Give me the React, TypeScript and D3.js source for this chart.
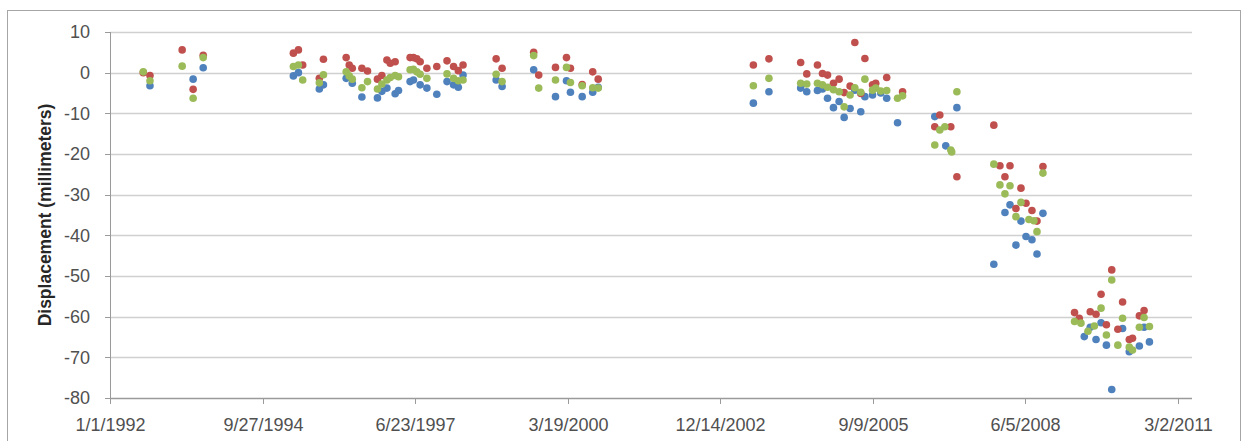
import React from "react";
import * as d3 from "d3";

type Pt = [string, number];

const blueSeries: Pt[] = [
  ["1992-09-19", -3.2], ["1993-06-29", -1.6], ["1993-09-03", 1.2],
  ["1995-04-17", -0.8], ["1995-05-20", 0.0], ["1995-10-04", -4.0], ["1995-10-31", -3.0],
  ["1996-03-28", -1.4], ["1996-05-07", -2.6], ["1996-07-09", -6.0], ["1996-10-19", -6.2],
  ["1996-11-17", -4.6], ["1996-12-20", -3.8], ["1997-02-12", -5.2], ["1997-03-06", -4.4],
  ["1997-05-21", -2.2], ["1997-06-12", -1.8], ["1997-07-26", -3.0], ["1997-09-08", -3.8],
  ["1997-11-12", -5.3], ["1998-01-18", -2.2], ["1998-03-02", -3.0], ["1998-04-02", -3.6],
  ["1998-05-03", -0.6], ["1998-12-06", -1.8], ["1999-01-14", -3.4], ["1999-08-09", 0.7],
  ["1999-12-30", -5.9], ["2000-03-11", -2.0], ["2000-04-06", -4.8], ["2000-06-22", -5.9],
  ["2000-08-30", -4.8], ["2000-10-05", -3.6],
  ["2003-07-19", -7.5], ["2003-10-29", -4.7], ["2004-05-24", -3.8], ["2004-07-03", -4.7],
  ["2004-09-11", -4.4], ["2004-10-14", -4.0], ["2004-11-16", -6.3], ["2004-12-25", -8.6],
  ["2005-01-31", -7.1], ["2005-03-05", -11.0], ["2005-04-13", -8.8], ["2005-05-14", -4.3],
  ["2005-06-22", -9.6], ["2005-07-19", -5.9], ["2005-09-07", -5.5], ["2005-10-31", -5.0],
  ["2005-12-09", -6.3], ["2006-02-18", -12.3],
  ["2006-10-20", -10.8], ["2006-12-31", -18.0], ["2007-03-14", -8.6],
  ["2007-11-11", -47.1], ["2008-01-23", -34.4], ["2008-02-25", -32.5], ["2008-04-04", -42.4],
  ["2008-05-07", -36.5], ["2008-06-09", -40.3], ["2008-07-18", -41.1], ["2008-08-20", -44.6],
  ["2008-09-28", -34.6],
  ["2009-06-26", -64.9], ["2009-08-04", -62.6], ["2009-09-11", -65.6], ["2009-10-14", -61.5],
  ["2009-11-18", -67.0], ["2009-12-23", -77.9], ["2010-03-04", -62.9], ["2010-04-17", -68.6],
  ["2010-06-22", -67.2], ["2010-07-23", -62.6], ["2010-08-27", -66.2],
];

const redSeries: Pt[] = [
  ["1992-08-06", 0.0], ["1992-09-19", -0.7], ["1993-04-18", 5.6], ["1993-06-29", -4.1],
  ["1993-09-03", 4.3],
  ["1995-04-17", 4.8], ["1995-05-20", 5.6], ["1995-06-17", 1.9], ["1995-10-04", -1.4],
  ["1995-10-31", 3.3], ["1996-03-28", 3.7], ["1996-04-17", 1.9], ["1996-05-07", 1.1],
  ["1996-07-09", 1.1], ["1996-08-15", 0.4], ["1996-10-19", -1.6], ["1996-11-17", -0.7],
  ["1996-12-20", 3.1], ["1997-01-11", 2.3], ["1997-02-12", 2.7], ["1997-05-21", 3.7],
  ["1997-06-12", 3.7], ["1997-07-04", 3.4], ["1997-07-26", 2.7], ["1997-09-08", 1.1],
  ["1997-11-12", 1.5], ["1998-01-18", 2.9], ["1998-03-02", 1.5], ["1998-04-02", 0.5],
  ["1998-05-03", 1.9], ["1998-12-06", 3.4], ["1999-01-14", 1.1], ["1999-08-09", 5.0],
  ["1999-09-11", -0.6], ["1999-12-30", 1.3], ["2000-03-11", 3.7], ["2000-04-06", 1.1],
  ["2000-06-22", -2.9], ["2000-08-30", 0.2], ["2000-10-05", -1.6],
  ["2003-07-19", 1.9], ["2003-10-29", 3.4], ["2004-05-24", 2.5], ["2004-07-03", -0.3],
  ["2004-09-11", 1.9], ["2004-10-14", -0.2], ["2004-11-16", -0.6], ["2004-12-25", -2.6],
  ["2005-01-31", -1.6], ["2005-03-05", -4.9], ["2005-04-13", -3.3], ["2005-05-14", 7.4],
  ["2005-06-22", -5.1], ["2005-07-19", 3.5], ["2005-09-07", -3.0], ["2005-09-28", -2.6],
  ["2005-12-09", -1.2], ["2006-03-23", -4.7],
  ["2006-10-20", -13.3], ["2006-11-22", -10.4], ["2007-02-02", -13.3], ["2007-03-14", -25.6],
  ["2007-11-11", -12.9], ["2007-12-21", -22.9], ["2008-01-23", -25.6], ["2008-02-25", -22.9],
  ["2008-04-04", -33.4], ["2008-05-07", -28.4], ["2008-06-09", -32.1], ["2008-07-18", -33.9],
  ["2008-08-20", -36.5], ["2008-09-28", -23.1],
  ["2009-04-23", -59.0], ["2009-05-24", -60.4], ["2009-08-04", -58.8], ["2009-09-11", -59.4],
  ["2009-10-14", -54.5], ["2009-11-18", -62.0], ["2009-12-23", -48.5], ["2010-02-01", -63.1],
  ["2010-03-04", -56.4], ["2010-04-17", -65.6], ["2010-05-08", -65.3], ["2010-06-22", -59.8],
  ["2010-07-23", -58.5],
];

const greenSeries: Pt[] = [
  ["1992-08-06", 0.2], ["1992-09-19", -2.0], ["1993-04-18", 1.6], ["1993-06-29", -6.3],
  ["1993-09-03", 3.7],
  ["1995-04-17", 1.5], ["1995-05-20", 1.9], ["1995-06-17", -1.8], ["1995-10-04", -2.5],
  ["1995-10-31", -0.5], ["1996-03-28", 0.2], ["1996-04-17", -0.8], ["1996-05-07", -1.6],
  ["1996-07-09", -3.7], ["1996-08-15", -2.2], ["1996-10-19", -4.0], ["1996-11-17", -2.8],
  ["1996-12-20", -1.8], ["1997-01-11", -1.2], ["1997-02-12", -0.7], ["1997-03-06", -1.0],
  ["1997-05-21", 0.7], ["1997-06-12", 0.8], ["1997-07-04", 0.2], ["1997-07-26", -0.4],
  ["1997-09-08", -1.4], ["1998-01-18", -0.3], ["1998-03-02", -1.4], ["1998-04-02", -2.0],
  ["1998-05-03", -1.8], ["1998-12-06", -0.4], ["1999-01-14", -2.2], ["1999-08-09", 4.2],
  ["1999-09-11", -3.8], ["1999-12-30", -1.8], ["2000-03-11", 1.3], ["2000-04-06", -2.4],
  ["2000-06-22", -3.2], ["2000-08-30", -3.7], ["2000-10-05", -3.8],
  ["2003-07-19", -3.2], ["2003-10-29", -1.4], ["2004-05-24", -2.6], ["2004-07-03", -2.8],
  ["2004-09-11", -2.6], ["2004-10-14", -3.0], ["2004-11-16", -3.6], ["2004-12-25", -4.2],
  ["2005-01-31", -4.7], ["2005-03-05", -8.4], ["2005-04-13", -5.5], ["2005-05-14", -3.7],
  ["2005-06-22", -4.8], ["2005-07-19", -1.6], ["2005-09-07", -4.3], ["2005-09-28", -3.8],
  ["2005-10-31", -4.5], ["2005-12-09", -4.4], ["2006-02-18", -6.3], ["2006-03-23", -5.7],
  ["2006-10-20", -17.8], ["2006-11-22", -14.1], ["2006-12-25", -13.3], ["2007-02-02", -19.0],
  ["2007-02-08", -19.5], ["2007-03-14", -4.7],
  ["2007-11-11", -22.5], ["2007-12-21", -27.6], ["2008-01-23", -29.8], ["2008-02-25", -27.8],
  ["2008-04-04", -35.4], ["2008-05-07", -31.9], ["2008-06-28", -36.1], ["2008-07-31", -36.4],
  ["2008-08-20", -39.1], ["2008-09-28", -24.7],
  ["2009-04-23", -61.2], ["2009-06-04", -61.6], ["2009-07-20", -63.6], ["2009-08-31", -62.3],
  ["2009-10-14", -57.9], ["2009-11-18", -64.5], ["2009-12-23", -51.0], ["2010-02-01", -67.0],
  ["2010-03-04", -60.4], ["2010-04-17", -67.5], ["2010-05-08", -68.2], ["2010-06-22", -62.6],
  ["2010-07-23", -60.2], ["2010-08-27", -62.4],
];

const xTickLabels = ["1/1/1992", "9/27/1994", "6/23/1997", "3/19/2000", "12/14/2002", "9/9/2005", "6/5/2008", "3/2/2011"];
const yTicks = [10, 0, -10, -20, -30, -40, -50, -60, -70, -80];
const xDomainLabels = ["1/1/1992", "6/2/2011"];
const yTitle = "Displacement (millimeters)";

const seriesList = [
  { name: "blue", data: blueSeries, color: "#4F81BD" },
  { name: "red", data: redSeries, color: "#C0504D" },
  { name: "green", data: greenSeries, color: "#9BBB59" },
];

const parseISO = d3.timeParse("%Y-%m-%d");
const parseUS = d3.timeParse("%m/%d/%Y");

export default function App() {
  const W = 1248, H = 441;
  const left = 110, right = 1192, top = 32, bottom = 398;
  const x = d3.scaleTime()
    .domain(xDomainLabels.map((s) => parseUS(s) as Date))
    .range([left, right]);
  const y = d3.scaleLinear().domain([-80, 10]).range([bottom, top]);
  const font = "'Liberation Sans', Arial, sans-serif";
  const txt = "#505050";

  return (
    <svg width={W} height={H} style={{ position: "absolute", left: 0, top: 0, background: "#fff" }}>
      <rect x={0} y={0} width={W} height={H} fill="#fff" />
      <rect x={7.5} y={10.5} width={1233} height={440} fill="none" stroke="#a6a6a6" strokeWidth={1} />
      {yTicks.map((t) => (
        <g key={"y" + t}>
          {t !== -80 && (
            <line x1={left} x2={right} y1={Math.round(y(t)) + 0.5} y2={Math.round(y(t)) + 0.5} stroke="#d0d0d0" strokeWidth={1.5} />
          )}
          <line x1={left - 5} x2={left} y1={Math.round(y(t)) + 0.5} y2={Math.round(y(t)) + 0.5} stroke="#9a9a9a" />
          <text x={left - 20} y={y(t)} dy="0.36em" textAnchor="end" fontFamily={font} fontSize={18} fill={txt}>
            {t}
          </text>
        </g>
      ))}
      <line x1={left + 0.5} x2={left + 0.5} y1={top} y2={bottom} stroke="#9a9a9a" />
      <line x1={left} x2={right} y1={bottom + 0.5} y2={bottom + 0.5} stroke="#9a9a9a" strokeWidth={1.5} />
      {xTickLabels.map((s) => {
        const px = Math.round(x(parseUS(s) as Date)) + 0.5;
        return (
          <g key={s}>
            <line x1={px} x2={px} y1={bottom} y2={bottom + 6} stroke="#9a9a9a" />
            <text x={px} y={431} textAnchor="middle" fontFamily={font} fontSize={18} fill={txt}>
              {s}
            </text>
          </g>
        );
      })}
      <text
        transform={`translate(51,${(top + bottom) / 2}) rotate(-90)`}
        textAnchor="middle"
        fontFamily={font}
        fontSize={17.5}
        fontWeight="bold"
        fill="#262626"
      >
        {yTitle}
      </text>
      {seriesList.map((s) => (
        <g key={s.name}>
          {s.data.map(([d, v], i) => (
            <circle key={i} cx={x(parseISO(d) as Date)} cy={y(v)} r={3.8} fill={s.color} />
          ))}
        </g>
      ))}
    </svg>
  );
}
